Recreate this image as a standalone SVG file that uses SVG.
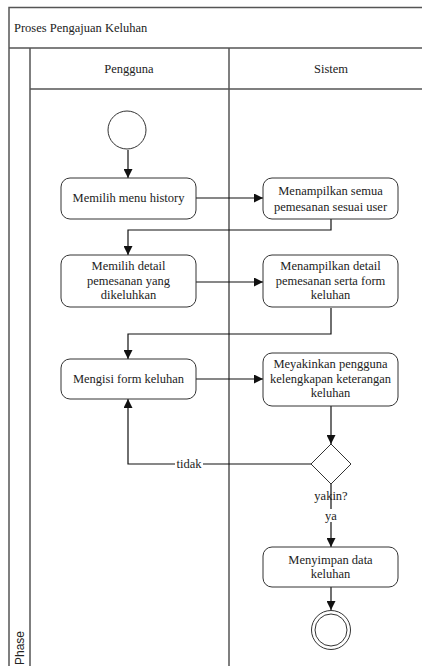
<svg xmlns="http://www.w3.org/2000/svg" width="422" height="666" viewBox="0 0 422 666">
  <style>
    .frame { fill: none; stroke: #555; stroke-width: 1.5; }
    .node { fill: #fff; stroke: #333; stroke-width: 1; }
    .edge { fill: none; stroke: #111; stroke-width: 1.2; }
    .txt { font-family: "Liberation Serif", "DejaVu Serif", serif; font-size: 12.5px; fill: #222; text-anchor: middle; }
    .title { font-family: "Liberation Serif", "DejaVu Serif", serif; font-size: 12.5px; fill: #222; }
    .phase { font-family: "Liberation Sans", "DejaVu Sans", sans-serif; font-size: 12px; fill: #222; }
  </style>
  <defs>
    <marker id="arrow" viewBox="0 0 10 10" refX="10" refY="5" markerWidth="9" markerHeight="9" markerUnits="userSpaceOnUse" orient="auto">
      <path d="M0,0 L10,5 L0,10 z" fill="#111"/>
    </marker>
  </defs>
  <rect width="422" height="666" fill="#fff"/>

  <!-- pool and lanes -->
  <g id="pool">
    <path class="frame" d="M9,667 V7.5 H430 M9,48 H430 M30,48 V667 M229,48 V667 M30,89 H430"/>
    <text class="title" x="14" y="32">Proses Pengajuan Keluhan</text>
    <text class="txt" x="129" y="73">Pengguna</text>
    <text class="txt" x="331" y="73">Sistem</text>
    <text class="phase" transform="translate(24,665) rotate(-90)">Phase</text>
  </g>

  <!-- connectors -->
  <g id="connectors">
    <path class="edge" d="M128,150 V178" marker-end="url(#arrow)"/>
    <path class="edge" d="M196,198 H263" marker-end="url(#arrow)"/>
    <path class="edge" d="M331,219 V230 H128 V255" marker-end="url(#arrow)"/>
    <path class="edge" d="M196,282 H263" marker-end="url(#arrow)"/>
    <path class="edge" d="M331,308 V334 H128 V359" marker-end="url(#arrow)"/>
    <path class="edge" d="M196,379 H263" marker-end="url(#arrow)"/>
    <path class="edge" d="M331,406 V444" marker-end="url(#arrow)"/>
    <path class="edge" d="M311,464 H128 V399" marker-end="url(#arrow)"/>
    <path class="edge" d="M331,484 V547" marker-end="url(#arrow)"/>
    <path class="edge" d="M331,587 V610" marker-end="url(#arrow)"/>
    <rect x="175" y="457" width="28" height="13" fill="#fff"/>
    <text class="txt" x="189" y="468">tidak</text>
    <text class="txt" x="331" y="500">yakin?</text>
    <rect x="322" y="509" width="18" height="13" fill="#fff"/>
    <text class="txt" x="331" y="520">ya</text>
  </g>

  <g id="start">
    <circle class="node" cx="127" cy="130" r="19"/>
  </g>

  <g id="memilih-menu">
    <rect class="node" x="61" y="178" width="135" height="41" rx="9"/>
    <text class="txt" x="128.5" y="202">Memilih menu history</text>
  </g>

  <g id="tampil-pemesanan">
    <rect class="node" x="263" y="178" width="135" height="41" rx="9"/>
    <text class="txt" x="330.5" y="195">Menampilkan semua</text>
    <text class="txt" x="330.5" y="211">pemesanan sesuai user</text>
  </g>

  <g id="memilih-detail">
    <rect class="node" x="61" y="255" width="135" height="52" rx="9"/>
    <text class="txt" x="128.5" y="270">Memilih detail</text>
    <text class="txt" x="128.5" y="285">pemesanan yang</text>
    <text class="txt" x="128.5" y="299">dikeluhkan</text>
  </g>

  <g id="tampil-detail">
    <rect class="node" x="263" y="255" width="135" height="52" rx="9"/>
    <text class="txt" x="330.5" y="270">Menampilkan detail</text>
    <text class="txt" x="330.5" y="285">pemesanan serta form</text>
    <text class="txt" x="330.5" y="299">keluhan</text>
  </g>

  <g id="mengisi-form">
    <rect class="node" x="61" y="359" width="135" height="40" rx="9"/>
    <text class="txt" x="128.5" y="383">Mengisi form keluhan</text>
  </g>

  <g id="meyakinkan">
    <rect class="node" x="263" y="353" width="135" height="53" rx="9"/>
    <text class="txt" x="330.5" y="368">Meyakinkan pengguna</text>
    <text class="txt" x="330.5" y="383">kelengkapan keterangan</text>
    <text class="txt" x="330.5" y="397">keluhan</text>
  </g>

  <g id="keputusan">
    <path class="node" d="M331,444 L351,464 L331,484 L311,464 z"/>
  </g>

  <g id="menyimpan">
    <rect class="node" x="263" y="547" width="135" height="40" rx="9"/>
    <text class="txt" x="330.5" y="564">Menyimpan data</text>
    <text class="txt" x="330.5" y="578">keluhan</text>
  </g>

  <g id="end">
    <circle class="node" cx="331" cy="630" r="19.5"/>
    <circle class="node" cx="331" cy="630" r="16"/>
  </g>
</svg>
